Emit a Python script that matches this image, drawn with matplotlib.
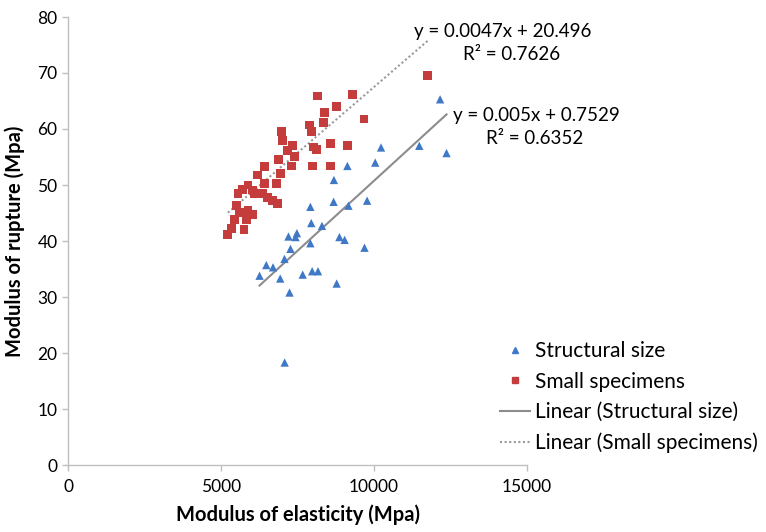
import matplotlib
matplotlib.use("Agg")
import matplotlib.pyplot as plt
import numpy as np
from matplotlib.lines import Line2D

plt.rcParams['font.family'] = ['Lato', 'DejaVu Sans']

# Structural size (blue triangles)
struct_x = [7080, 6260, 6480, 6700, 6935, 7075, 7270, 7240, 7205, 7480, 7435,
            7670, 7980, 8170, 7920, 7950, 8300, 7920, 8680, 9165, 9775, 8870,
            9040, 9690, 8780, 8690, 9130, 10040, 10230, 11480, 12370, 12160]
struct_y = [18.3, 33.8, 35.7, 35.3, 33.3, 36.8, 38.6, 30.8, 40.8, 41.4, 40.7,
            34.0, 34.6, 34.6, 39.6, 43.2, 42.7, 46.1, 47.0, 46.3, 47.2, 40.7,
            40.2, 38.8, 32.4, 50.9, 53.4, 54.0, 56.7, 57.0, 55.7, 65.3]

# Small specimens (red squares)
small_x = [8160, 9300, 8780, 8380, 8350, 9670, 7890, 7945, 6970, 7020, 7345,
           7185, 7400, 7295, 6890, 6425, 6935, 8020, 8110, 8575, 9140, 7980,
           8575, 6185, 6425, 6805, 5880, 5715, 6020, 5555, 6095, 6370, 6530,
           6695, 6855, 5500, 5880, 6045, 5610, 5445, 5825, 5335, 5750, 5225,
           11750]
small_y = [65.9, 66.2, 64.0, 63.0, 61.2, 61.8, 60.7, 59.5, 59.5, 58.0, 57.0,
           56.1, 55.1, 53.4, 54.6, 53.3, 52.1, 56.8, 56.4, 57.4, 57.0, 53.4,
           53.4, 51.8, 50.3, 50.3, 50.0, 49.2, 49.1, 48.5, 48.5, 48.5, 47.8,
           47.2, 46.7, 46.4, 45.4, 44.8, 45.1, 43.8, 43.8, 42.3, 42.1, 41.1,
           69.5]

# Trendline coefficients (from the chart's equations)
struct_fit = (0.005, 0.7529)
small_fit = (0.0047, 20.496)

x_ticks = [0, 5000, 10000, 15000]
y_ticks = [0, 10, 20, 30, 40, 50, 60, 70, 80]

blue = '#3F78C6'
red = '#C43C3C'
axis_gray = '#BFBFBF'

fig = plt.figure(figsize=(7.66, 5.32), dpi=100)
ax = fig.add_axes([68/766, 1-465/532, (527-68)/766, (465-17)/532])

ax.scatter(struct_x, struct_y, marker='^', s=36, color=blue, zorder=3,
           edgecolors='none')
ax.scatter(small_x, small_y, marker='s', s=40, color=red, zorder=3,
           edgecolors='none')

sx = np.array([min(struct_x), max(struct_x)])
ax.plot(sx, struct_fit[0]*sx + struct_fit[1], color='#8C8C8C', lw=1.5, zorder=2)
mx = np.array([min(small_x), max(small_x)])
ax.plot(mx, small_fit[0]*mx + small_fit[1], color='#9A9A9A', lw=1.5,
        ls=(0, (1, 1.2)), zorder=2)

ax.set_xlim(0, 15000)
ax.set_ylim(0, 80)
ax.set_xticks(x_ticks)
ax.set_yticks(y_ticks)
for s in ['top', 'right']:
    ax.spines[s].set_visible(False)
for s in ['left', 'bottom']:
    ax.spines[s].set_color(axis_gray)
    ax.spines[s].set_linewidth(1.0)
ax.tick_params(axis='both', colors=axis_gray, length=4, width=1,
               labelcolor='black', labelsize=12.5)
ax.tick_params(axis='x', pad=6)
ax.set_xlabel('Modulus of elasticity (Mpa)', fontsize=14.5, fontweight='bold',
              labelpad=7)
ax.set_ylabel('Modulus of rupture (Mpa)', fontsize=14.5, fontweight='bold',
              labelpad=9)

# Equation annotations
fig.text(503/766, 1-32/532, 'y = 0.0047x + 20.496', ha='center', va='center',
         fontsize=13.5)
fig.text(512/766, 1-55/532, 'R² = 0.7626', ha='center', va='center',
         fontsize=13.5)
fig.text(536/766, 1-115/532, 'y = 0.005x + 0.7529', ha='center', va='center',
         fontsize=13.5)
fig.text(535/766, 1-139/532, 'R² = 0.6352', ha='center', va='center',
         fontsize=13.5)

handles = [
    Line2D([], [], marker='^', ls='none', color=blue, markersize=5),
    Line2D([], [], marker='s', ls='none', color=red, markersize=5),
    Line2D([], [], color='#8C8C8C', lw=1.5),
    Line2D([], [], color='#9A9A9A', lw=1.5, ls=(0, (1, 1.2))),
]
labels = ['Structural size', 'Small specimens', 'Linear (Structural size)',
          'Linear (Small specimens)']
fig.legend(handles, labels, loc='upper left', bbox_to_anchor=(492/766, 1-333/532),
           frameon=False, fontsize=15, handlelength=1.4, handletextpad=0.25,
           labelspacing=0.5, borderaxespad=0)

fig.savefig('out.png', dpi=100)
